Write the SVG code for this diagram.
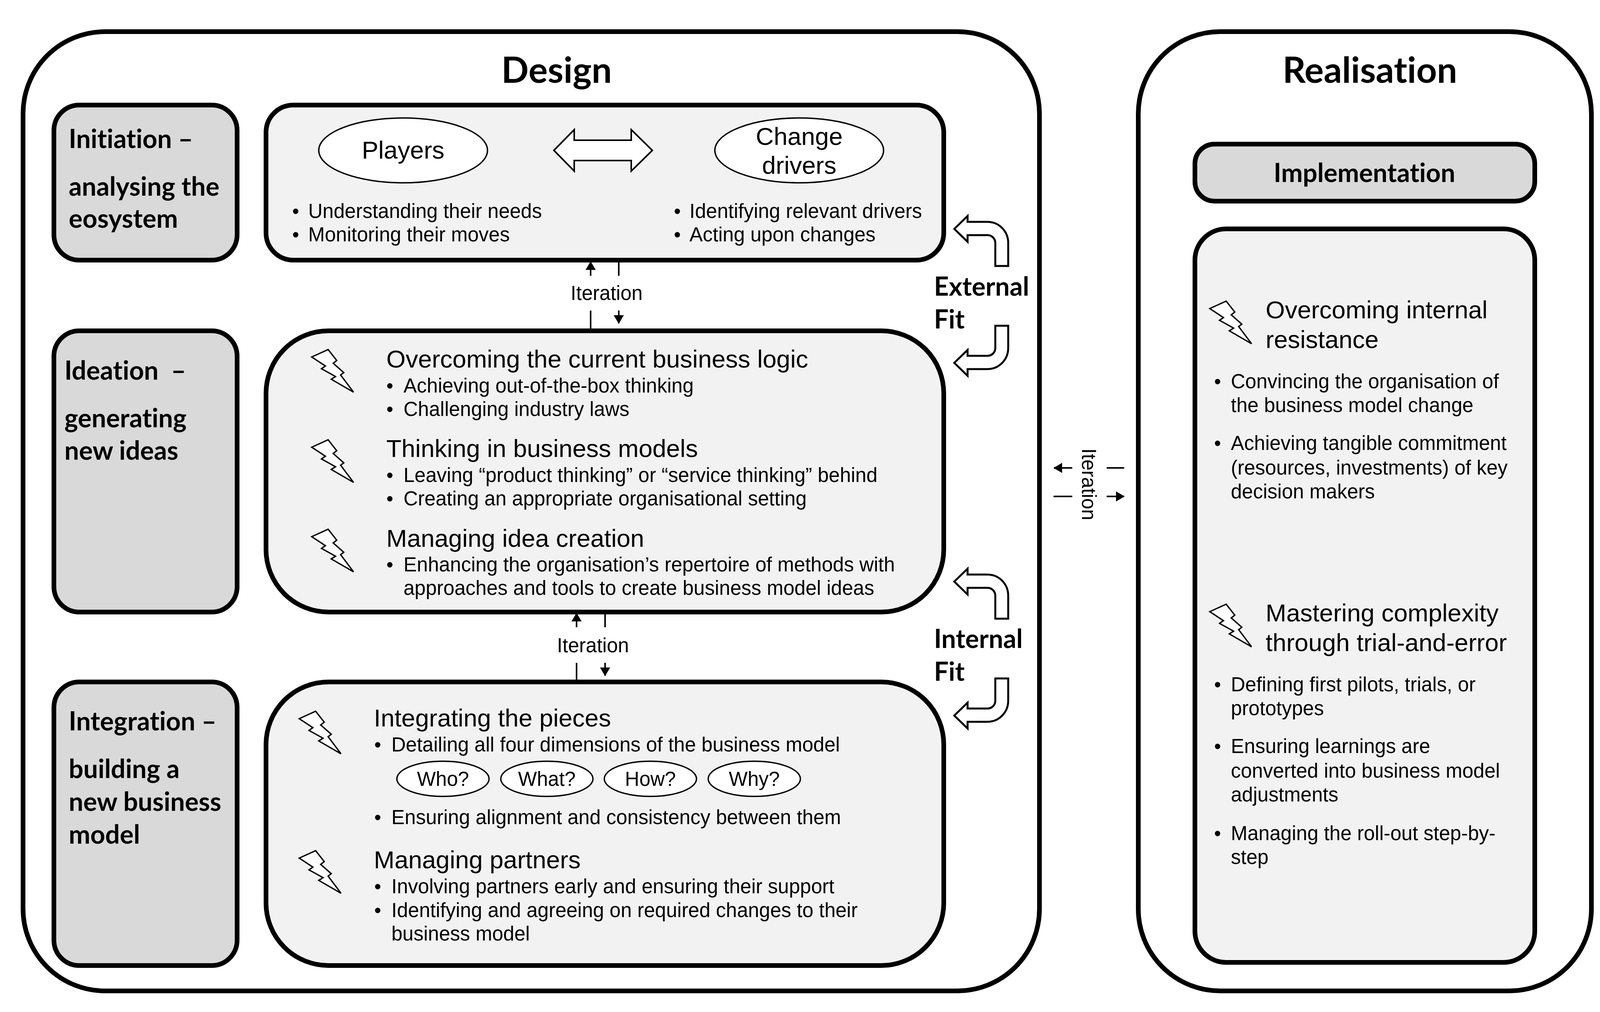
<svg xmlns="http://www.w3.org/2000/svg" width="4124" height="2591" viewBox="0 0 4124 2591">
<style>
.o{fill:#fff;stroke:#000;stroke-width:12}
.g{fill:#d9d9d9;stroke:#000;stroke-width:12}
.l{fill:#f2f2f2;stroke:#000;stroke-width:12}
.e{fill:#fff;stroke:#000;stroke-width:3.5}
.a{fill:#fff;stroke:#000;stroke-width:5;stroke-linejoin:miter}
.t{font-family:"Liberation Sans",Arial,sans-serif;fill:#000}
.b{font-size:51px}
.h{font-size:63.5px}
.c{text-anchor:middle}
.k{font-family:Lato,"Open Sans",sans-serif;font-weight:700;fill:#000;font-size:66px;font-variant-ligatures:none;white-space:pre}
.ti{font-size:92px}
.ln{stroke:#000;stroke-width:4;fill:none}
.bolt{fill:#fff;stroke:#000;stroke-width:3.5;stroke-linejoin:miter}
</style>
<defs>
<polygon id="bolt" class="bolt" points="798,914 840,895 862,923 853,930 880,954 872,960 905,1004 848,971 859,964 823,944 833,937"/>
<path id="fit-up" class="a" d="M2443 586 L2477 553 V568 H2528 A53 54 0 0 1 2581 622 V681 H2548 V622 A20 20 0 0 0 2528 602 H2477 V619 Z"/>
<path id="fit-dn" class="a" d="M2443 929 L2477 896 V911 H2528 A20 20 0 0 0 2548 891 V834 H2581 V891 A53 54 0 0 1 2528 945 H2477 V962 Z"/>
<marker id="ah" viewBox="0 0 22 26" refX="21" refY="13" markerWidth="22" markerHeight="26" markerUnits="userSpaceOnUse" orient="auto"><path d="M0 0L22 13L0 26Z" fill="#000"/></marker>
</defs>

<g id="design"><rect class="o" x="59" y="81" width="2602" height="2456" rx="210"/><text class="k ti c" x="1425" y="212">Design</text></g>
<g id="realisation"><rect class="o" x="2914" y="81" width="1160" height="2456" rx="210"/><text class="k ti c" x="3507" y="212">Realisation</text></g>

<g id="initiation"><rect class="g" x="138" y="269" width="469" height="397" rx="65"/>
<text class="k" x="176" y="379">Initiation –</text><text class="k" x="176" y="501">analysing the</text><text class="k" x="176" y="583">eosystem</text></g>
<g id="ideation"><rect class="g" x="138" y="847" width="469" height="720" rx="65"/>
<text class="k" x="165" y="972">Ideation  –</text><text class="k" x="165" y="1094">generating</text><text class="k" x="165" y="1177">new ideas</text></g>
<g id="integration"><rect class="g" x="138" y="1746" width="469" height="726" rx="65"/>
<text class="k" x="176" y="1870">Integration –</text><text class="k" x="176" y="1992">building a</text><text class="k" x="176" y="2076">new business</text><text class="k" x="176" y="2160">model</text></g>

<g id="ecosystem"><rect class="l" x="681" y="269" width="1735" height="397" rx="70"/>
<ellipse class="e" cx="1032" cy="385" rx="216" ry="83"/><text class="t h c" x="1032" y="406">Players</text>
<ellipse class="e" cx="2046" cy="385" rx="216" ry="83"/><text class="t h c" x="2046" y="371">Change</text><text class="t h c" x="2046" y="445">drivers</text>
<path class="a" style="stroke-width:4" d="M1418 385 L1470 332 V359 H1616 V332 L1670 385 L1616 438 V411 H1470 V438 Z"/>
<text class="t b" x="748" y="558">•</text><text class="t b" x="789" y="558">Understanding their needs</text>
<text class="t b" x="748" y="618">•</text><text class="t b" x="789" y="618">Monitoring their moves</text>
<text class="t b" x="1725" y="558">•</text><text class="t b" x="1765" y="558">Identifying relevant drivers</text>
<text class="t b" x="1725" y="618">•</text><text class="t b" x="1765" y="618">Acting upon changes</text></g>

<g id="ideas"><rect class="l" x="681" y="847" width="1735" height="720" rx="160"/>
<use href="#bolt"/><use href="#bolt" y="231"/><use href="#bolt" y="460"/>
<text class="t h" x="989" y="941">Overcoming the current business logic</text>
<text class="t b" x="989" y="1005">•</text><text class="t b" x="1033" y="1005">Achieving out-of-the-box thinking</text>
<text class="t b" x="989" y="1065">•</text><text class="t b" x="1033" y="1065">Challenging industry laws</text>
<text class="t h" x="989" y="1170">Thinking in business models</text>
<text class="t b" x="989" y="1234">•</text><text class="t b" x="1033" y="1234">Leaving “product thinking” or “service thinking” behind</text>
<text class="t b" x="989" y="1294">•</text><text class="t b" x="1033" y="1294">Creating an appropriate organisational setting</text>
<text class="t h" x="989" y="1400">Managing idea creation</text>
<text class="t b" x="989" y="1463">•</text><text class="t b" x="1033" y="1463">Enhancing the organisation’s repertoire of methods with</text>
<text class="t b" x="1033" y="1523">approaches and tools to create business model ideas</text></g>

<g id="model"><rect class="l" x="681" y="1746" width="1735" height="726" rx="160"/>
<use href="#bolt" x="-32" y="926"/><use href="#bolt" x="-32" y="1283"/>
<text class="t h" x="957" y="1860">Integrating the pieces</text>
<text class="t b" x="958" y="1924">•</text><text class="t b" x="1002" y="1924">Detailing all four dimensions of the business model</text>
<ellipse class="e" cx="1134" cy="1994" rx="118" ry="45"/><text class="t b c" x="1134" y="2012">Who?</text>
<ellipse class="e" cx="1400" cy="1994" rx="118" ry="45"/><text class="t b c" x="1400" y="2012">What?</text>
<ellipse class="e" cx="1665" cy="1994" rx="118" ry="45"/><text class="t b c" x="1665" y="2012">How?</text>
<ellipse class="e" cx="1931" cy="1994" rx="118" ry="45"/><text class="t b c" x="1931" y="2012">Why?</text>
<text class="t b" x="958" y="2110">•</text><text class="t b" x="1002" y="2110">Ensuring alignment and consistency between them</text>
<text class="t h" x="957" y="2223">Managing partners</text>
<text class="t b" x="958" y="2287">•</text><text class="t b" x="1002" y="2287">Involving partners early and ensuring their support</text>
<text class="t b" x="958" y="2348">•</text><text class="t b" x="1002" y="2348">Identifying and agreeing on required changes to their</text>
<text class="t b" x="1002" y="2408">business model</text></g>

<g id="implementation"><rect class="g" x="3059" y="369" width="870" height="146" rx="50"/><text class="k c" x="3493" y="466">Implementation</text></g>
<g id="realisation-detail"><rect class="l" x="3059" y="586" width="870" height="1878" rx="80"/>
<use href="#bolt" x="2299" y="-124"/><use href="#bolt" x="2299" y="652"/>
<text class="t h" x="3240" y="815">Overcoming internal</text><text class="t h" x="3240" y="891">resistance</text>
<text class="t b" x="3108" y="994">•</text><text class="t b" x="3151" y="994">Convincing the organisation of</text><text class="t b" x="3151" y="1055">the business model change</text>
<text class="t b" x="3108" y="1152">•</text><text class="t b" x="3151" y="1152">Achieving tangible commitment</text><text class="t b" x="3151" y="1215">(resources, investments) of key</text><text class="t b" x="3151" y="1276">decision makers</text>
<text class="t h" x="3240" y="1591">Mastering complexity</text><text class="t h" x="3240" y="1667">through trial-and-error</text>
<text class="t b" x="3108" y="1770">•</text><text class="t b" x="3151" y="1770">Defining first pilots, trials, or</text><text class="t b" x="3151" y="1831">prototypes</text>
<text class="t b" x="3108" y="1928">•</text><text class="t b" x="3151" y="1928">Ensuring learnings are</text><text class="t b" x="3151" y="1991">converted into business model</text><text class="t b" x="3151" y="2052">adjustments</text>
<text class="t b" x="3108" y="2151">•</text><text class="t b" x="3151" y="2151">Managing the roll-out step-by-</text><text class="t b" x="3151" y="2212">step</text></g>

<g id="fit-labels">
<text class="k" x="2391" y="757">External</text><text class="k" x="2391" y="841">Fit</text>
<text class="k" x="2391" y="1659">Internal</text><text class="k" x="2391" y="1743">Fit</text>
<text class="t b c" x="1553" y="768">Iteration</text><text class="t b c" x="1518" y="1670">Iteration</text>
<text class="t b" transform="translate(2770 1240) rotate(90)" text-anchor="middle">Iteration</text>
</g>

<g id="connectors">
<use href="#fit-up"/><use href="#fit-dn"/><use href="#fit-up" y="903"/><use href="#fit-dn" y="903"/>
<line class="ln" x1="1512" y1="706" x2="1512" y2="670" marker-end="url(#ah)"/>
<line class="ln" x1="1584" y1="668" x2="1584" y2="706"/>
<line class="ln" x1="1512" y1="795" x2="1512" y2="847"/>
<line class="ln" x1="1584" y1="795" x2="1584" y2="828" marker-end="url(#ah)"/>
<line class="ln" x1="1476" y1="1606" x2="1476" y2="1570" marker-end="url(#ah)"/>
<line class="ln" x1="1549" y1="1567" x2="1549" y2="1606"/>
<line class="ln" x1="1476" y1="1697" x2="1476" y2="1746"/>
<line class="ln" x1="1549" y1="1697" x2="1549" y2="1730" marker-end="url(#ah)"/>
<line class="ln" x1="2745" y1="1198" x2="2698" y2="1198" marker-end="url(#ah)"/>
<line class="ln" x1="2833" y1="1198" x2="2878" y2="1198"/>
<line class="ln" x1="2697" y1="1271" x2="2745" y2="1271"/>
<line class="ln" x1="2833" y1="1271" x2="2878" y2="1271" marker-end="url(#ah)"/>
</g>
</svg>
